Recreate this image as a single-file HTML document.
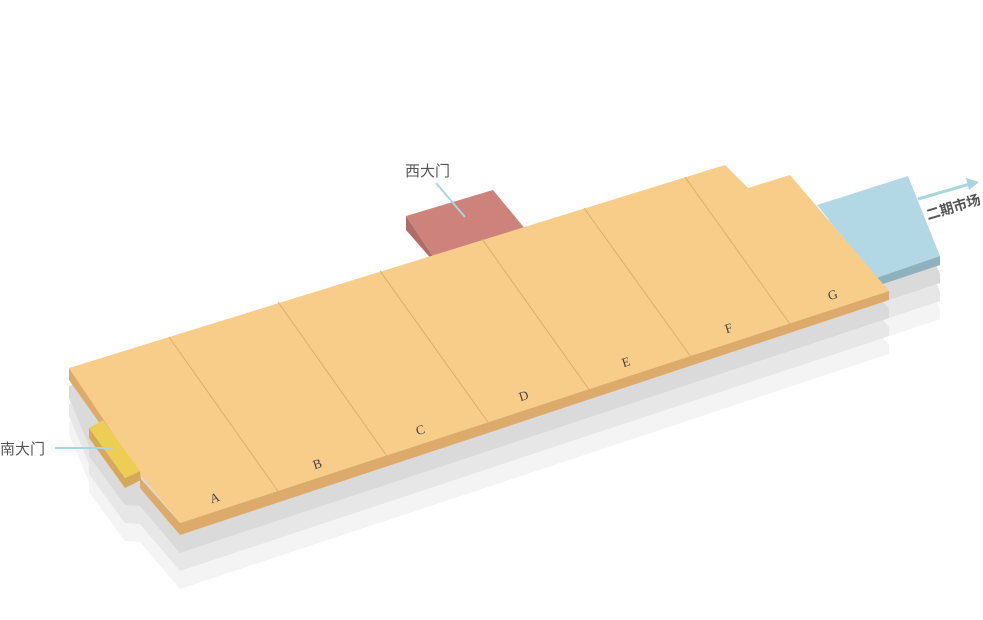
<!DOCTYPE html>
<html><head><meta charset="utf-8"><style>
html,body{margin:0;padding:0;background:#fff;}
svg{display:block;}
text{font-family:"Liberation Sans","Noto Sans CJK SC",sans-serif;}
.l{font-family:"Liberation Serif",serif;font-size:13px;fill:#444;}
</style></head><body>
<svg width="983" height="620" viewBox="0 0 983 620">
<defs>
<polygon id="base" points="69,368 725,165 748,188 790,175 889,291 889,300 180,535 140,488 125,487 89,438 89,428 69,380"/>
<polygon id="bb" points="817,205 908,176 940,256 940,265 880,285 876,278"/>
</defs>
<use href="#bb" transform="translate(0,54)" fill="#f3f4f3"/>
<use href="#base" transform="translate(0,54)" fill="#f3f4f3"/>
<use href="#bb" transform="translate(0,36)" fill="#e6e7e6"/>
<use href="#base" transform="translate(0,36)" fill="#e6e7e6"/>
<use href="#bb" transform="translate(0,18)" fill="#d9dad9"/>
<use href="#base" transform="translate(0,18)" fill="#d9dad9"/>
<!-- blue block -->
<polygon points="876,278 940,256 940,265 880,285" fill="#8eb2bd"/>
<polygon points="817,205 908,176 940,256 876,278" fill="#b3d8e5"/>
<!-- red block -->
<polygon points="406,216 434,258 434,262 406,230" fill="#b06c66"/>
<polygon points="406,216 493,190 526,230 434,258" fill="#cd837b"/>
<!-- main side -->
<polygon points="180,523 889,291 889,300 180,535" fill="#dcab6c"/>
<polygon points="69,368 140,470 140,480 69,380" fill="#dcab6c"/>
<polygon points="140,478 180,523 180,535 140,488" fill="#dcab6c"/>
<!-- main top -->
<polygon points="69,368 725,165 748,188 790,175 889,291 180,523 140,474" fill="#f8cd8a"/>
<g stroke="#dcae6a" stroke-width="1">
<line x1="169" y1="337" x2="280" y2="494"/>
<line x1="278" y1="302" x2="389" y2="459"/>
<line x1="380" y1="271" x2="490" y2="425"/>
<line x1="482" y1="239" x2="590" y2="391"/>
<line x1="584" y1="208" x2="691" y2="357"/>
<line x1="685" y1="177" x2="790" y2="324"/>
</g>
<!-- yellow -->
<polygon points="89,428 125,478 125,488 89,438" fill="#d6a85c"/>
<polygon points="125,478 140,471 141,480 125,488" fill="#d6a85c"/>
<polygon points="89,428 103,420 140,471 125,478" fill="#eecd55"/>
<g class="l">
<text x="210" y="502" transform="rotate(-18 215 498)" class="l">A</text>
<text x="313" y="468" transform="rotate(-18 318 464)" class="l">B</text>
<text x="416" y="434" transform="rotate(-18 421 430)" class="l">C</text>
<text x="519" y="400" transform="rotate(-18 524 396)" class="l">D</text>
<text x="622" y="366" transform="rotate(-18 627 362)" class="l">E</text>
<text x="725" y="332" transform="rotate(-18 730 328)" class="l">F</text>
<text x="828" y="299" transform="rotate(-18 833 295)" class="l">G</text>
</g>
<line x1="55" y1="448" x2="113" y2="448" stroke="#a9d4e0" stroke-width="2"/>
<text x="0" y="454" font-size="15" fill="#555">南大门</text>
<line x1="436" y1="183" x2="465" y2="217" stroke="#a9d4e0" stroke-width="2"/>
<text x="405" y="176" font-size="15" fill="#555">西大门</text>
<line x1="918" y1="199" x2="970" y2="184" stroke="#a9d4e0" stroke-width="3"/>
<polygon points="979,182 966,178 969,190" fill="#a9d4e0"/>
<text x="928" y="220" font-size="14" font-weight="bold" fill="#555" transform="rotate(-17 928 220)">二期市场</text>
</svg>
</body></html>
